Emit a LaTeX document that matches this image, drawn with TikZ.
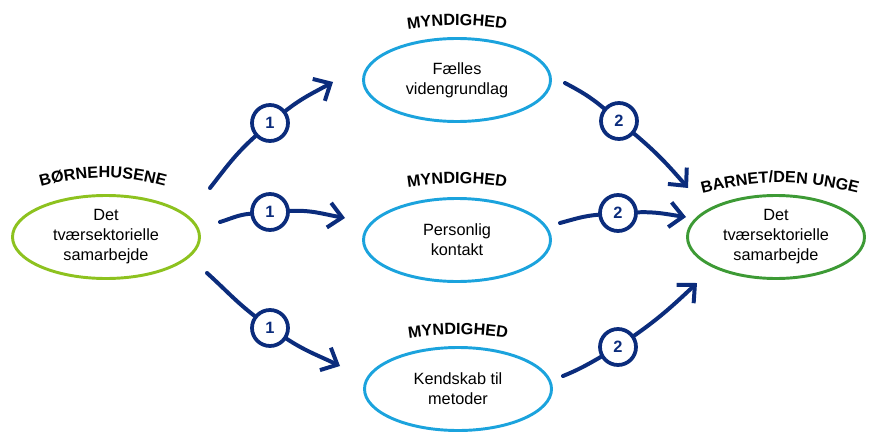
\documentclass[tikz,border=0pt]{standalone}
\usepackage{fontspec}
\setmainfont{Liberation Sans}
\usepackage{tikz}
\usetikzlibrary{arrows.meta,shapes.geometric,decorations.text,calc}
\definecolor{arrownavy}{HTML}{0B2C7C}
\definecolor{myndblue}{HTML}{1BA3DD}
\definecolor{kidgreen}{HTML}{8DC21F}
\definecolor{childgreen}{HTML}{3D9A35}
\newcommand\lblfont{\fontsize{13.8}{16}\selectfont\bfseries}

\begin{document}
\begin{tikzpicture}[x=0.03cm, y=0.03cm,
  place/.style={draw=myndblue, ellipse, line width=2.5pt, minimum width=5.61cm, minimum height=2.49cm, inner sep=0pt, align=center, font=\fontsize{13.9}{17}\selectfont},
  actor/.style={place, draw=kidgreen},
  badge/.style={circle, draw=arrownavy, fill=white, line width=3.2pt, minimum size=1.08cm, inner sep=0pt, font=\fontsize{14}{14}\selectfont\bfseries, text=arrownavy},
  arr/.style={-{Straight Barb[length=4mm, width=7.5mm]}, line width=3.4pt, arrownavy, line cap=round},
  arclabel/.style={decorate, decoration={text along path, text align=center, text={|\lblfont|#1}}}
]
  \useasboundingbox (0,0) rectangle (869,435);

  \node[actor] (bh) at (106,198) {Det\\tværsektorielle\\samarbejde};
  \node[place] (fv) at (457,355) {Fælles\\videngrundlag};
  \node[place] (pk) at (457,195) {Personlig\\kontakt};
  \node[place] (km) at (458,46)  {Kendskab til\\metoder};
  \node[actor, draw=childgreen, minimum width=5.31cm] (bu) at (776,198) {Det\\tværsektorielle\\samarbejde};

  \path[arclabel=BØRNEHUSENE] ($(bh)+(-83,45)$) to[bend left=18] ($(bh)+(77,45)$);
  \path[arclabel=MYNDIGHED] ($(fv)+(-80,45)$) to[bend left=12] ($(fv)+(80,45)$);
  \path[arclabel=MYNDIGHED] ($(pk)+(-80,47)$) to[bend left=12] ($(pk)+(80,47)$);
  \path[arclabel=MYNDIGHED] ($(km)+(-80,45)$) to[bend left=12] ($(km)+(80,45)$);
  \path[arclabel={BARNET/DEN UNGE}] ($(bu)+(-91,39)$) to[bend left=16] ($(bu)+(99,39)$);

  \coordinate (o1) at (210,247); \coordinate (i1) at (333,353);
  \coordinate (o2) at (220,213); \coordinate (i2) at (345,217);
  \coordinate (o3) at (207,162); \coordinate (i3) at (340,69);
  \coordinate (o4) at (565,352); \coordinate (i4) at (688,247);
  \coordinate (o5) at (560,212); \coordinate (i5) at (686,218);
  \coordinate (o6) at (563,59);  \coordinate (i6) at (697,152);

  \node[badge] (b1) at (270,312) {1};
  \node[badge] (b2) at (270,223) {1};
  \node[badge] (b3) at (270,107) {1};
  \node[badge] (b4) at (619,314) {2};
  \node[badge] (b5) at (618,222) {2};
  \node[badge] (b6) at (618,88)  {2};

  \draw[arr] (o1) to[out=52, in=222] (b1) to[out=38, in=209] (i1);
  \draw[arr] (o2) to[out=17, in=185] (b2) to[out=3, in=170] (i2);
  \draw[arr] (o3) to[out=-42, in=142] (b3) to[out=-33, in=154] (i3);
  \draw[arr] (o4) to[out=-28, in=140] (b4) to[out=-40, in=131] (i4);
  \draw[arr] (o5) to[out=15, in=185] (b5) to[out=2, in=172] (i5);
  \draw[arr] (o6) to[out=22, in=210] (b6) to[out=35, in=223] (i6);
\end{tikzpicture}
\end{document}
